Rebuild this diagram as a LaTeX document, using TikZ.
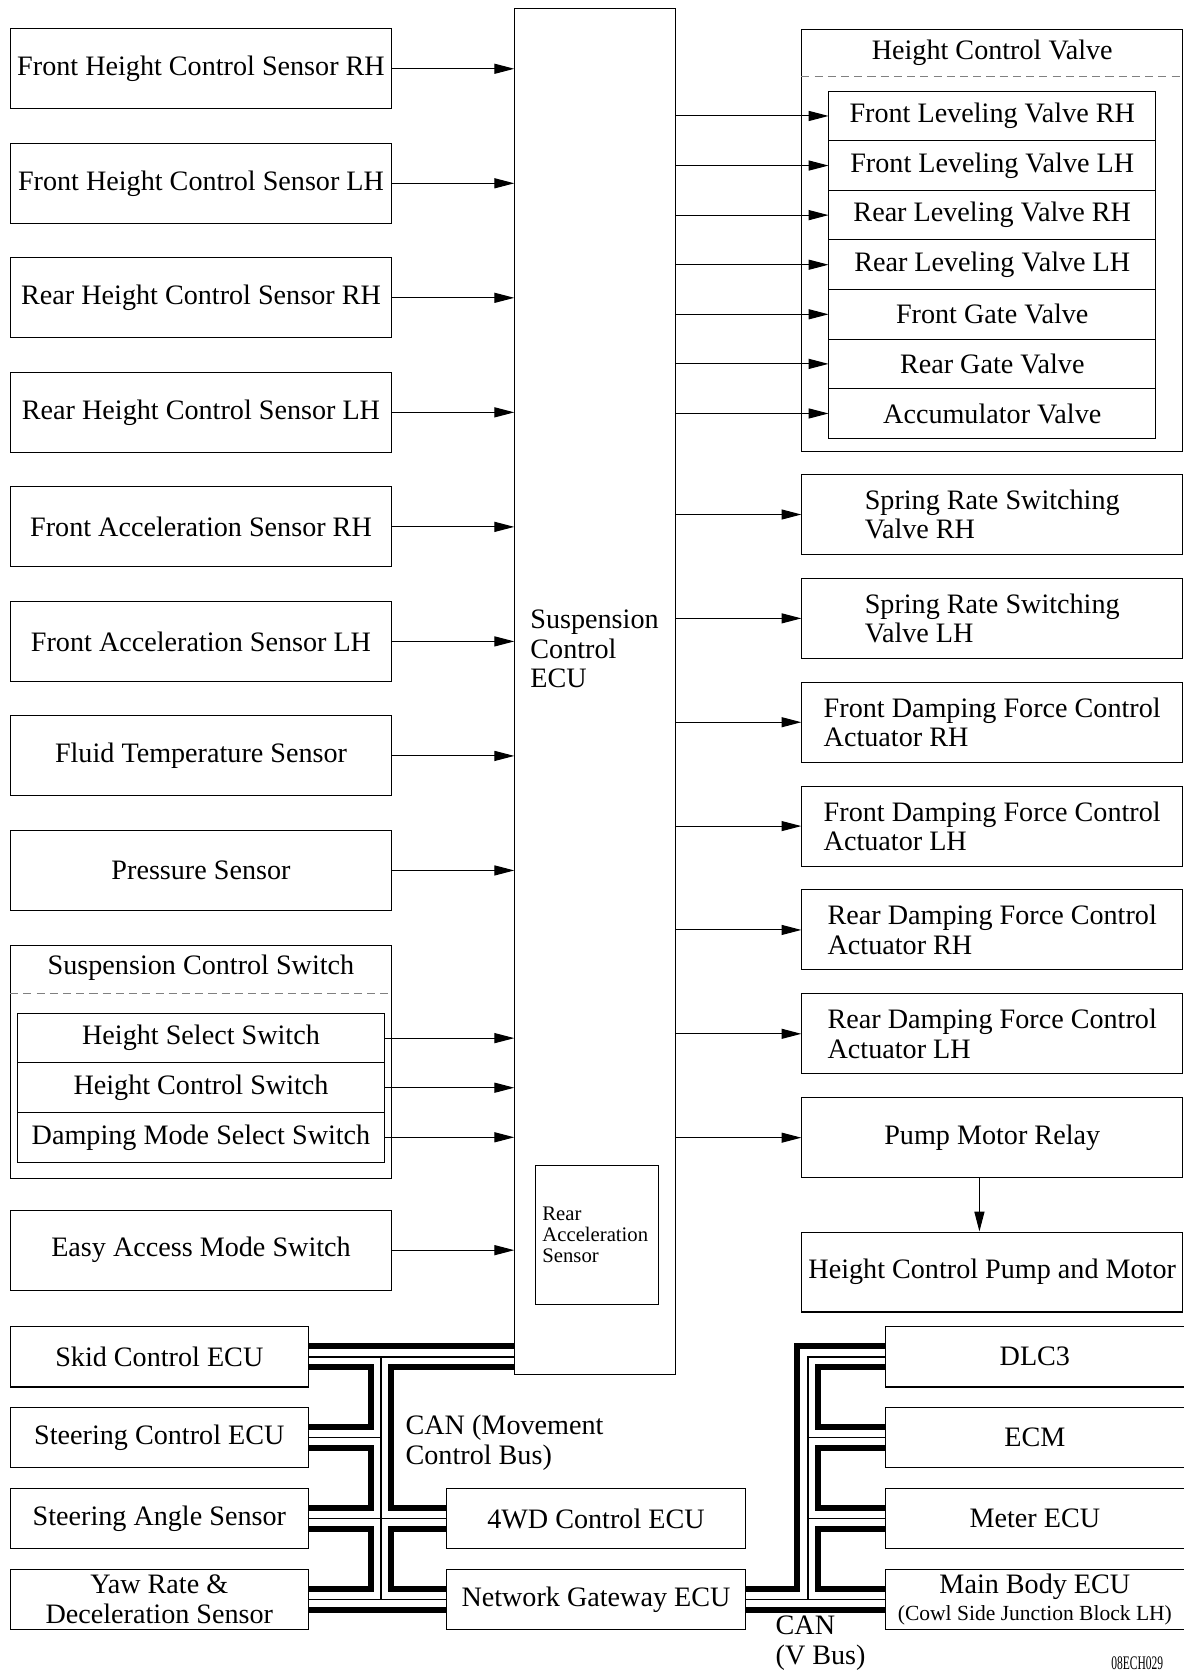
\documentclass[tikz,border=0pt]{standalone}
\usepackage{fontspec}
\setmainfont{Liberation Serif}
\usepackage{tikz}
\usetikzlibrary{arrows.meta,positioning}
\newcommand{\boxfont}{\fontsize{13.2}{13.7}\selectfont}
\newcommand{\rasfont}{\fontsize{9.7}{10}\selectfont}
\newcommand{\cowlfont}{\fontsize{10.1}{11}\selectfont}

\begin{document}
\begin{tikzpicture}[x=0.5pt,y=-0.5pt,
  node distance=15.7pt and 10pt,
  box/.style={rectangle,draw,line width=0.5pt,inner xsep=0pt,inner ysep=0.5pt,
    align=center,font=\boxfont},
  sens/.style={box,minimum width=178.5pt,minimum height=37.5pt},
  outv/.style={box,minimum width=178.5pt,minimum height=37.5pt},
  rowbox/.style={box,outer sep=0pt,minimum height=23.25pt},
  grp/.style={rectangle,draw,line width=0.5pt,minimum width=178.5pt},
  title/.style={inner sep=0pt,font=\boxfont},
  canbox/.style={box,minimum width=139.5pt,minimum height=28.3pt},
  sep/.style={gray,line width=0.5pt,dash pattern=on 3.8pt off 2.4pt},
  arr/.style={line width=0.5pt,-{Triangle[length=9.3pt,width=4.7pt]}},
  canbus/.style={line width=12.5pt,line join=miter,
    postaction={draw=white,line width=6.9pt},
    postaction={draw=black,line width=0.7pt}}]
  \useasboundingbox (0,0) rectangle (1110,1568);
  % sensors
  \node[sens] (fhrh) at (188.5,64.5) {Front Height Control Sensor RH};
  \node[sens,below=of fhrh] (fhlh) {Front Height Control Sensor LH};
  \node[sens,below=of fhlh] (rhrh) {Rear Height Control Sensor RH};
  \node[sens,below=of rhrh] (rhlh) {Rear Height Control Sensor LH};
  \node[sens,below=of rhlh] (farh) {Front Acceleration Sensor RH};
  \node[sens,below=of farh] (falh) {Front Acceleration Sensor LH};
  \node[sens,below=of falh] (fts) {Fluid Temperature Sensor};
  \node[sens,below=of fts] (prs) {Pressure Sensor};
  \node[grp,minimum height=109.5pt,below=15.75pt of prs] (scs) {};
  \node[title] (scstitle) at ([yshift=-10.75pt]scs.north) {Suspension Control Switch};
  \draw[sep] ([yshift=-23pt]scs.north west) -- ([yshift=-23pt]scs.north east);
  \node[rowbox,minimum width=171.7pt,below=32.25pt of scs.north] (hss) {Height Select Switch};
  \node[rowbox,minimum width=171.7pt,below=0pt of hss] (hcs) {Height Control Switch};
  \node[rowbox,minimum width=171.7pt,below=0pt of hcs] (dms) {Damping Mode Select Switch};
  \node[sens,below=14.3pt of scs] (eams) {Easy Access Mode Switch};

  % ECU
  \node[rectangle,draw,line width=0.5pt,minimum width=75.45pt,minimum height=640.3pt] (ecu) at (558.25,648.7) {};
  \node[anchor=west,align=left,inner sep=0pt,font=\fontsize{13.2}{13.75}\selectfont] (ecutext) at (497,608.5) {Suspension\\Control\\ECU};
  \node[draw,line width=0.5pt,minimum width=57.5pt,minimum height=65.3pt,text width=51pt,inner xsep=3pt,
    align=left,font=\rasfont] (ras) at (559.7,1158.1) {Rear\\Acceleration\\Sensor};

  % actuators
  \node[grp,minimum height=198pt] (hcv) at (930.5,225.5) {};
  \node[title] (hcvtitle) at ([yshift=-11.25pt]hcv.north) {Height Control Valve};
  \draw[sep] ([yshift=-22.5pt]hcv.north west) -- ([yshift=-22.5pt]hcv.north east);
  \node[rowbox,minimum width=153.5pt,below=29.25pt of hcv.north] (flvrh) {Front Leveling Valve RH};
  \node[rowbox,minimum width=153.5pt,below=0pt of flvrh] (flvlh) {Front Leveling Valve LH};
  \node[rowbox,minimum width=153.5pt,below=0pt of flvlh] (rlvrh) {Rear Leveling Valve RH};
  \node[rowbox,minimum width=153.5pt,below=0pt of rlvrh] (rlvlh) {Rear Leveling Valve LH};
  \node[rowbox,minimum width=153.5pt,below=0pt of rlvlh] (fgv) {Front Gate Valve};
  \node[rowbox,minimum width=153.5pt,below=0pt of fgv] (rgv) {Rear Gate Valve};
  \node[rowbox,minimum width=153.5pt,below=0pt of rgv] (acv) {Accumulator Valve};
  \node[outv,align=left,below=10.25pt of hcv] (srrh) {Spring Rate Switching\\Valve RH};
  \node[outv,align=left,below=10.7pt of srrh] (srlh) {Spring Rate Switching\\Valve LH};
  \node[outv,align=left,below=10.7pt of srlh] (fdrh) {Front Damping Force Control\\Actuator RH};
  \node[outv,align=left,below=10.7pt of fdrh] (fdlh) {Front Damping Force Control\\Actuator LH};
  \node[outv,align=left,below=10.7pt of fdlh] (rdrh) {Rear Damping Force Control\\Actuator RH};
  \node[outv,align=left,below=10.7pt of rdrh] (rdlh) {Rear Damping Force Control\\Actuator LH};
  \node[outv,below=10.7pt of rdlh] (pmr) {Pump Motor Relay};
  \node[outv,below=25pt of pmr] (hcpm) {Height Control Pump and Motor};

  % CAN
  \node[canbox] (skid) at (149.4,1272.4) {Skid Control ECU};
  \node[canbox,below=9.1pt of skid] (steer) {Steering Control ECU};
  \node[canbox,below=9.1pt of steer] (sas) {Steering Angle Sensor};
  \node[canbox,below=9.1pt of sas] (yaw) {Yaw Rate \&\\Deceleration Sensor};
  \node[canbox,minimum width=140pt,right=64.5pt of sas] (fwd) {4WD Control ECU};
  \node[canbox,minimum width=140pt,right=64.5pt of yaw] (ngw) {Network Gateway ECU};
  \node[canbox,minimum width=140pt,right=65.3pt of ngw] (mbecu) {Main Body ECU\\[-1pt]{\cowlfont (Cowl Side Junction Block LH)}};
  \node[canbox,minimum width=140pt,above=9.1pt of mbecu] (meter) {Meter ECU};
  \node[canbox,minimum width=140pt,above=9.1pt of meter] (ecm) {ECM};
  \node[canbox,minimum width=140pt,above=9.1pt of ecm] (dlc) {DLC3};
  \coordinate (mvx) at (357.2,1400);
  \coordinate (vbx) at (757.5,1400);
  \node[anchor=west,align=left,inner sep=0pt,font=\boxfont] (mvlabel) at (380,1353) {CAN (Movement\\Control Bus)};
  \node[anchor=west,align=left,inner sep=0pt,font=\boxfont] (vlabel) at (727,1541) {CAN\\(V Bus)};
  \node[anchor=north west,inner sep=0pt,font=\fontsize{9}{9}\selectfont,xscale=0.6,transform shape] (figcode) at (1042,1553) {08ECH029};

  \draw[arr] (fhrh) -- (fhrh -| ecu.west); \draw[arr] (fhlh) -- (fhlh -| ecu.west);
  \draw[arr] (rhrh) -- (rhrh -| ecu.west); \draw[arr] (rhlh) -- (rhlh -| ecu.west);
  \draw[arr] (farh) -- (farh -| ecu.west); \draw[arr] (falh) -- (falh -| ecu.west);
  \draw[arr] (fts) -- (fts -| ecu.west);   \draw[arr] (prs) -- (prs -| ecu.west);
  \draw[arr] (hss) -- (hss -| ecu.west);   \draw[arr] (hcs) -- (hcs -| ecu.west);
  \draw[arr] (dms) -- (dms -| ecu.west);   \draw[arr] (eams) -- (eams -| ecu.west);
  \draw[arr] (flvrh -| ecu.east) -- (flvrh); \draw[arr] (flvlh -| ecu.east) -- (flvlh);
  \draw[arr] (rlvrh -| ecu.east) -- (rlvrh); \draw[arr] (rlvlh -| ecu.east) -- (rlvlh);
  \draw[arr] (fgv -| ecu.east) -- (fgv);     \draw[arr] (rgv -| ecu.east) -- (rgv);
  \draw[arr] (acv -| ecu.east) -- (acv);
  \draw[arr] (srrh -| ecu.east) -- (srrh);   \draw[arr] (srlh -| ecu.east) -- (srlh);
  \draw[arr] (fdrh -| ecu.east) -- (fdrh);   \draw[arr] (fdlh -| ecu.east) -- (fdlh);
  \draw[arr] (rdrh -| ecu.east) -- (rdrh);   \draw[arr] (rdlh -| ecu.east) -- (rdlh);
  \draw[arr] (pmr -| ecu.east) -- (pmr);
  \draw[arr] ([xshift=-6pt]pmr.south) -- ([xshift=-6pt]pmr.south |- hcpm.north);

  \draw[canbus] (skid.east) -- (skid.east -| ecu.west)
    (skid.east -| mvx) -- (yaw.east -| mvx)
    (steer.east) -- (steer.east -| mvx)
    (sas.east) -- (fwd.west)
    (yaw.east) -- (ngw.west);
  \draw[canbus] (ngw.east) -- (mbecu.west)
    (ngw.east -| vbx) |- (dlc.west)
    (ecm.west -| vbx) -- (ecm.west)
    (meter.west -| vbx) -- (meter.west);
\end{tikzpicture}
\end{document}
